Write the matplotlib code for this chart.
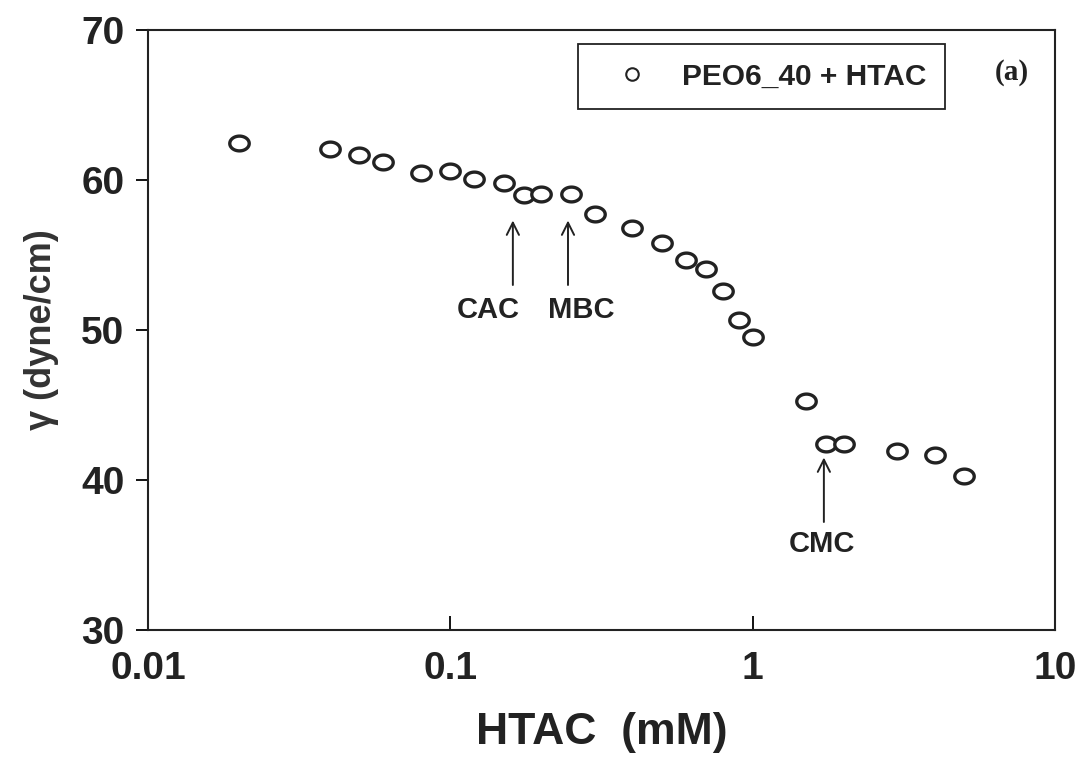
import matplotlib
matplotlib.use("Agg")
import matplotlib.pyplot as plt
from matplotlib.path import Path
from matplotlib.lines import Line2D
import numpy as np

# data
htac_mM = [0.02, 0.04, 0.05, 0.06, 0.08, 0.10, 0.12, 0.15, 0.175, 0.20, 0.25,
           0.30, 0.40, 0.50, 0.60, 0.70, 0.80, 0.90, 1.0, 1.5, 1.75, 2.0,
           3.0, 4.0, 5.0]
gamma = [62.5, 62.1, 61.7, 61.2, 60.5, 60.6, 60.1, 59.8, 59.0, 59.1, 59.1,
         57.75, 56.8, 55.8, 54.7, 54.05, 52.6, 50.7, 49.55, 45.3, 42.4, 42.4,
         41.95, 41.7, 40.3]
series_label = "PEO6_40 + HTAC"
annot_labels = ["CAC", "MBC", "CMC"]
annot_x = [0.161, 0.245, 1.72]
x_ticks = [0.01, 0.1, 1, 10]
x_ticklabels = ["0.01", "0.1", "1", "10"]
y_ticks = [30, 40, 50, 60, 70]

plt.rcParams['font.family'] = ['Liberation Sans', 'DejaVu Sans']

fig = plt.figure(figsize=(10.76, 7.61), dpi=100)
ax = fig.add_axes([148/1076, 1-630/761, (1055-148)/1076, 600/761])

# elliptical open marker (slightly wider than tall)
t = np.linspace(0, 2*np.pi, 60)
ell = Path(np.column_stack([np.cos(t), 0.76*np.sin(t)]), closed=True)

ax.plot(htac_mM, gamma, linestyle='none', marker=ell, markersize=14,
        markerfacecolor='white', markeredgecolor='#222222', markeredgewidth=2.4)

ax.set_xscale('log')
ax.set_xlim(0.01, 10)
ax.set_ylim(30, 70)
ax.set_xticks(x_ticks)
ax.set_xticklabels(x_ticklabels)
ax.xaxis.set_minor_locator(matplotlib.ticker.NullLocator())
ax.set_yticks(y_ticks)
ax.tick_params(axis='x', direction='in', length=10, width=1.3, pad=15,
               labelsize=28)
ax.tick_params(axis='y', direction='out', length=9, width=1.3, pad=8,
               labelsize=28)
for lab in ax.get_xticklabels() + ax.get_yticklabels():
    lab.set_fontweight('bold')
    lab.set_color('#222222')
for sp in ax.spines.values():
    sp.set_linewidth(1.5)
    sp.set_color('#222222')

ax.set_xlabel("HTAC  (mM)", fontsize=32, fontweight='bold', color='#222222',
              labelpad=18)
ax.set_ylabel("γ (dyne/cm)", fontsize=26, fontweight='bold', color='#333333',
              labelpad=16)

# annotations with arrows
tip_y = [57.3, 57.3, 41.5]
base_y = [53.0, 53.0, 37.2]
text_x = [0.133, 0.272, 1.69]
text_y = [51.3, 51.3, 35.7]
for lab, xa, ty, by, tx, tyy in zip(annot_labels, annot_x, tip_y, base_y, text_x, text_y):
    ax.annotate("", xy=(xa, ty), xytext=(xa, by),
                arrowprops=dict(arrowstyle='->', lw=1.4, color='#222222',
                                mutation_scale=22, shrinkA=0, shrinkB=0))
    ax.text(tx, tyy, lab, fontsize=21, fontweight='bold', color='#222222',
            ha='center', va='center')

handle = Line2D([], [], linestyle='none', marker='o', markersize=9,
                markerfacecolor='white', markeredgecolor='#222222',
                markeredgewidth=1.5)
leg = ax.legend([handle], [series_label], loc='upper left',
                bbox_to_anchor=((578-148)/907, 1-(44-30)/600),
                frameon=True, fancybox=False, framealpha=1, edgecolor='#222222',
                prop={'weight': 'bold', 'size': 21.5}, borderpad=0.62,
                handlelength=2.4, handletextpad=0.45, borderaxespad=0)
leg.get_frame().set_linewidth(1.3)
for txt in leg.get_texts():
    txt.set_color('#222222')

ax.text((1012-148)/907, 1-(73-30)/600, "(a)", transform=ax.transAxes,
        fontsize=21, fontweight='bold', family='Liberation Serif',
        ha='center', va='center', color='#222222')

fig.savefig("out.png", dpi=100, facecolor='white')
